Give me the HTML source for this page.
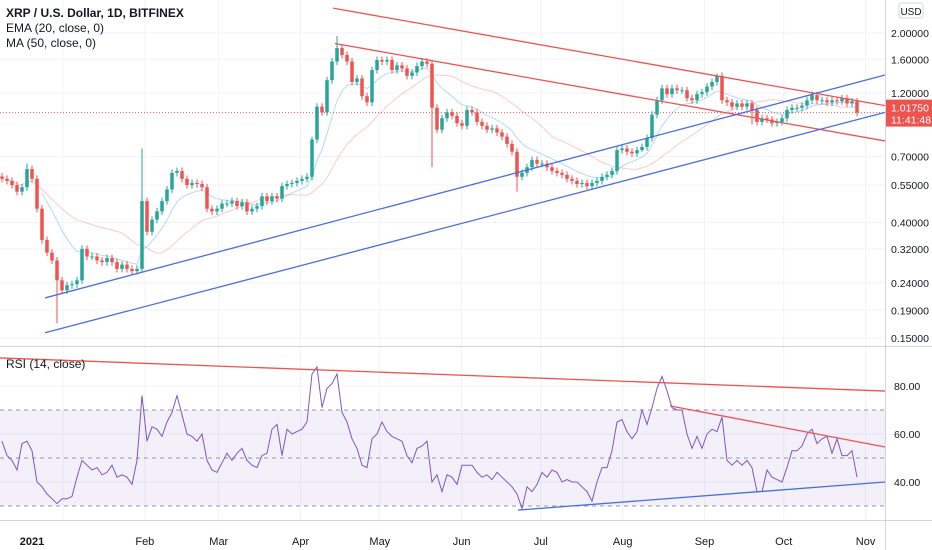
<!DOCTYPE html>
<html><head><meta charset="utf-8">
<style>
html,body{margin:0;padding:0;background:#fff;}
svg{display:block;font-family:"Liberation Sans",sans-serif;}
</style></head>
<body>
<svg id="chart" width="932" height="550" viewBox="0 0 932 550" xmlns="http://www.w3.org/2000/svg">
<rect x="0" y="0" width="932" height="550" fill="#fff"/>
<g id="grid"></g>
<g id="rsiBand"></g>
<g id="lines"></g>
<g id="candles"></g>
<g id="rsiG"></g>
<g id="draw"></g>
<g id="axes"></g>
<text x="6" y="17" font-size="12" font-weight="bold" fill="#131722">XRP / U.S. Dollar, 1D, BITFINEX</text>
<text x="6" y="32" font-size="12" fill="#131722">EMA (20, close, 0)</text>
<text x="6" y="47" font-size="12" fill="#131722">MA (50, close, 0)</text>
<text x="6" y="368" font-size="12" fill="#131722">RSI (14, close)</text>
</svg>
<script>
// ---- data ----
const closes = [0.58,0.57,0.55,0.52,0.54,0.63,0.58,0.45,0.345,0.31,0.29,0.245,0.225,0.235,0.237,0.245,0.32,0.30,0.30,0.29,
0.286,0.296,0.286,0.27,0.28,0.27,0.265,0.27,0.48,0.37,0.41,0.44,0.48,0.53,0.61,0.62,0.58,0.55,0.56,0.555,
0.54,0.45,0.44,0.45,0.47,0.47,0.48,0.46,0.475,0.44,0.45,0.46,0.50,0.48,0.50,0.49,0.545,0.555,0.56,0.57,
0.58,0.59,0.81,1.07,1.02,1.34,1.57,1.76,1.66,1.57,1.32,1.36,1.17,1.11,1.46,1.59,1.57,1.59,1.46,1.52,
1.48,1.39,1.43,1.51,1.57,1.54,1.06,0.88,0.97,1.02,0.99,0.93,0.91,1.04,1.02,0.94,0.91,0.88,0.89,0.86,
0.83,0.78,0.73,0.59,0.61,0.64,0.68,0.66,0.66,0.64,0.62,0.61,0.60,0.58,0.57,0.555,0.56,0.545,0.56,0.57,
0.59,0.60,0.62,0.74,0.75,0.73,0.72,0.74,0.76,0.82,1.00,1.13,1.25,1.19,1.25,1.23,1.23,1.15,1.13,1.19,
1.21,1.27,1.32,1.39,1.13,1.11,1.07,1.10,1.07,1.10,1.04,0.94,0.97,0.96,0.93,0.94,0.97,1.04,1.06,1.06,
1.08,1.13,1.18,1.13,1.13,1.11,1.13,1.12,1.15,1.10,1.12,1.0175];
const spikeIdx = [5,11,28,62,67,86,103,128,143,150];
const spikeVal = [0.66,0.17,0.75,0.83,1.95,0.64,0.52,0.73,1.42,0.92];
const rsi = [57,51,49,45,56,57,53,40,38,35,33,31,33,33,34,42,49,47,45,46,
43,44,47,42,43,42,39,49,76,57,63,62,59,65,69,76,68,60,59,57,
60,49,45,44,48,52,49,52,54,49,47,46,51,52,62,64,51,62,60,61,
62,65,85,88,71,79,81,85,69,65,58,54,47,46,58,60,65,61,59,58,
57,51,48,54,55,57,40,43,36,43,42,39,47,47,47,44,42,43,41,44,
42,40,38,35,29,38,36,39,44,42,45,44,40,41,40,40,38,36,32,40,
46,46,53,65,66,61,58,61,70,64,71,79,84,78,71,70,70,60,54,59,
54,60,62,61,67,49,47,49,47,49,46,36,36,45,42,41,40,46,53,53,
55,60,62,56,58,59,52,58,51,51,53,42];
const priceTicks = [2.0,1.6,1.2,0.7,0.55,0.4,0.32,0.24,0.19,0.15];
const priceTickLabels = ["2.00000","1.60000","1.20000","0.70000","0.55000","0.40000","0.32000","0.24000","0.19000","0.15000"];
const rsiTicks = [80,60,40];
const rsiTickLabels = ["80.00","60.00","40.00"];
const monthDays = [0,31,59,90,120,151,181,212,243,273,304];
const monthLabels = ["2021","Feb","Mar","Apr","May","Jun","Jul","Aug","Sep","Oct","Nov"];
const lastPrice = 1.0175;
// trendlines: [i0, v0, i1, v1]
const priceTrends = [[66.2,2.47,176.6,1.08,"#ef5350"],[66.6,1.83,176.6,0.80,"#ef5350"],[8.6,0.211,176.6,1.40,"#4a6fe0"],[8.6,0.157,176.6,1.02,"#4a6fe0"]];
const rsiTrends = [[-0.4,91.7,176.6,77.9,"#ef5350"],[133.6,71.7,176.6,54.6,"#ef5350"],[103.2,28.3,176.6,40,"#4a6fe0"]];

// ---- scales ----
const PX0=2, STEP=5;
function xI(i){return PX0+i*STEP;}
function yP(p){return 33+(Math.log(2)-Math.log(p))*117.8;}
function yR(v){return 458-(v-50)*2.4;}
function xD(d){return 63+d*2.64;}
const NS="http://www.w3.org/2000/svg";
function mk(tag,attrs,parent){const e=document.createElementNS(NS,tag);for(const k in attrs)e.setAttribute(k,attrs[k]);parent.appendChild(e);return e;}
const G=id=>document.getElementById(id);

// grid
const grid=G('grid');
priceTicks.forEach((p,k)=>{const l=mk('line',{x1:0,x2:885,y1:yP(p),y2:yP(p),stroke:'#f0f3fa','stroke-width':1},grid);

});
rsiTicks.forEach(v=>{const l=mk('line',{x1:0,x2:885,y1:yR(v),y2:yR(v),stroke:'#f0f3fa'},grid);

});
monthDays.forEach(d=>{const l=mk('line',{x1:xD(d),x2:xD(d),y1:0,y2:520,stroke:'#f0f3fa'},grid);

});

// RSI band
const band=G('rsiBand');
const br=mk('rect',{x:0,y:yR(70),width:885,height:yR(30)-yR(70),fill:'rgba(126,87,194,0.09)'},band);


[70,50,30].forEach(v=>{const l=mk('line',{x1:0,x2:885,y1:yR(v),y2:yR(v),stroke:'#9598a1','stroke-dasharray':'4,4','stroke-width':1},band);

});

// MA / EMA
function emaArr(a,n){const k=2/(n+1);let out=[],e=a[0];a.forEach((v,i)=>{e=i?v*k+e*(1-k):v;out.push(e);});return out;}
function smaArr(a,n){return a.map((v,i)=>{const s=a.slice(Math.max(0,i-n+1),i+1);return s.reduce((x,y)=>x+y,0)/s.length;});}
const lines=G('lines');
function poly(arr,start,color,name){let d='';arr.forEach((v,i)=>{if(i<start)return;d+=(d?'L':'M')+xI(i).toFixed(1)+','+yP(v).toFixed(1);});
const p=mk('path',{d:d,fill:'none',stroke:color,'stroke-width':1},lines);

}
poly(emaArr(closes,10),8,'rgba(33,150,243,0.35)','ema-line');
poly(smaArr(closes,25),0,'rgba(239,83,80,0.3)','ma-line');

// last price dotted line
const lp=mk('line',{x1:0,x2:885,y1:yP(lastPrice),y2:yP(lastPrice),stroke:'#ef5350','stroke-dasharray':'1,2','stroke-width':1},lines);



// candles
const cg=G('candles');
closes.forEach((c,i)=>{
  const o=i?closes[i-1]:c*1.02;
  let hi=Math.max(o,c)*1.03, lo=Math.min(o,c)*0.97;
  const s=spikeIdx.indexOf(i);
  if(s>=0){const v=spikeVal[s]; if(v>Math.max(o,c))hi=v; else lo=v;}
  const up=c>=o, col=up?'#26a69a':'#ef5350', x=xI(i);
  const w=mk('line',{x1:x,x2:x,y1:yP(hi),y2:yP(lo),stroke:col,'stroke-width':1},cg);
  
  
  const yt=yP(Math.max(o,c)), yb=yP(Math.min(o,c));
  const b=mk('rect',{x:x-1.75,y:yt,width:3.5,height:Math.max(1,yb-yt),fill:col},cg);
  
  
});

// RSI line
let rd='';rsi.forEach((v,i)=>{rd+=(i?'L':'M')+xI(i)+','+yR(v).toFixed(1);});
const rp=mk('path',{d:rd,fill:'none',stroke:'#7e57c2','stroke-width':1},G('rsiG'));



// trendlines
const dg=G('draw');
priceTrends.forEach(t=>{const l=mk('line',{x1:xI(t[0]),y1:yP(t[1]),x2:xI(t[2]),y2:yP(t[3]),stroke:t[4],'stroke-width':1.3},dg);

});
rsiTrends.forEach(t=>{const l=mk('line',{x1:xI(t[0]),y1:yR(t[1]),x2:xI(t[2]),y2:yR(t[3]),stroke:t[4],'stroke-width':1.3},dg);

});

// axes
const ax=G('axes');
const a1=mk('rect',{x:885,y:0,width:47,height:550,fill:'#fff'},ax);


mk('line',{x1:885.5,x2:885.5,y1:0,y2:550,stroke:'#d1d4dc'},ax);
mk('line',{x1:0,x2:932,y1:346.5,y2:346.5,stroke:'#d1d4dc'},ax);
mk('line',{x1:0,x2:932,y1:520.5,y2:520.5,stroke:'#d1d4dc'},ax);
priceTicks.forEach((p,k)=>{const t=mk('text',{x:891,y:yP(p)+4,'font-size':10.5,fill:'#131722'},ax);t.textContent=priceTickLabels[k];

});
rsiTicks.forEach((v,k)=>{const t=mk('text',{x:894,y:yR(v)+4,'font-size':10.5,fill:'#131722'},ax);t.textContent=rsiTickLabels[k];

});
monthDays.forEach((d,k)=>{const t=mk('text',{x:k===0?32:xD(d),y:545,'font-size':11,fill:'#131722','text-anchor':'middle','font-weight':k===0?'bold':'normal'},ax);t.textContent=monthLabels[k];

});
// USD box
const ub=mk('rect',{x:899,y:3,width:24,height:15,rx:3,fill:'#fff',stroke:'#d1d4dc'},ax);


const ut=mk('text',{x:911,y:15,'font-size':10,fill:'#131722','text-anchor':'middle'},ax);ut.textContent='USD';


// price label
const ly=yP(lastPrice);
const pb=mk('rect',{x:886,y:ly-13,width:46,height:27,fill:'#ef5350'},ax);


const pt=mk('text',{x:891,y:ly-1,'font-size':10.5,fill:'#fff'},ax);pt.textContent='1.01750';


const ct=mk('text',{x:891,y:ly+11,'font-size':10.5,fill:'#fff'},ax);ct.textContent='11:41:48';


</script>
</body></html>
